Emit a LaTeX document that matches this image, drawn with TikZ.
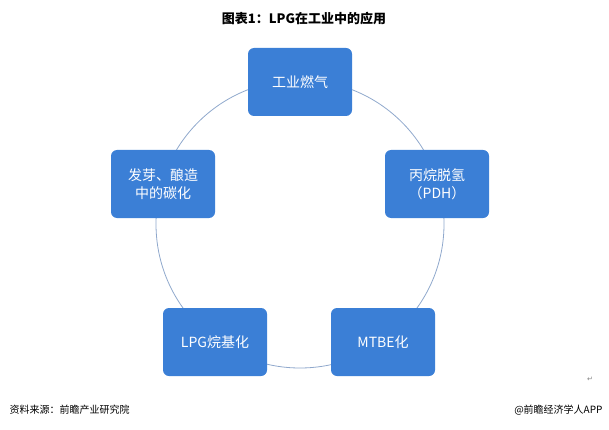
\documentclass[tikz,border=0pt]{standalone}
\usepackage{fontspec}
\setmainfont{Noto Sans CJK SC}
\newfontfamily\symfont{DejaVu Sans}
\definecolor{boxblue}{HTML}{3B7FD6}
\definecolor{ringblue}{HTML}{8FA8CC}
\begin{document}
\begin{tikzpicture}[x=1pt,y=-1pt]
\tikzstyle{every node} = [font=\fontsize{14}{18}\selectfont]
\tikzstyle{usebox} = [fill=boxblue, text=white, rounded corners=6pt, minimum width=104pt, minimum height=68pt, align=center, inner sep=2pt]
\useasboundingbox (0,0) rectangle (609,430);
\draw [draw=ringblue, line width=.8pt] (300,224) circle (144);
\node [font=\bfseries\fontsize{13}{15}\selectfont] (title) at (304,19) {图表1：LPG在工业中的应用};
\node [usebox] (a) at (300,82) {工业燃气};
\node [usebox] (b) at (437,184) {丙烷脱氢\\（PDH）};
\node [usebox] (c) at (163,184) {发芽、酿造\\中的碳化};
\node [usebox] (d) at (215,342) {LPG烷基化};
\node [usebox] (e) at (383,342) {MTBE化};
\node [font=\fontsize{10}{12}\selectfont, anchor=west] (src) at (6,410) {资料来源：前瞻产业研究院};
\node [font=\fontsize{10}{12}\selectfont, anchor=east] (app) at (606,410) {@前瞻经济学人APP};
\node [font=\symfont\fontsize{7}{8}\selectfont, text=gray] (ret) at (590,379) {↵};
\end{tikzpicture}
\end{document}
